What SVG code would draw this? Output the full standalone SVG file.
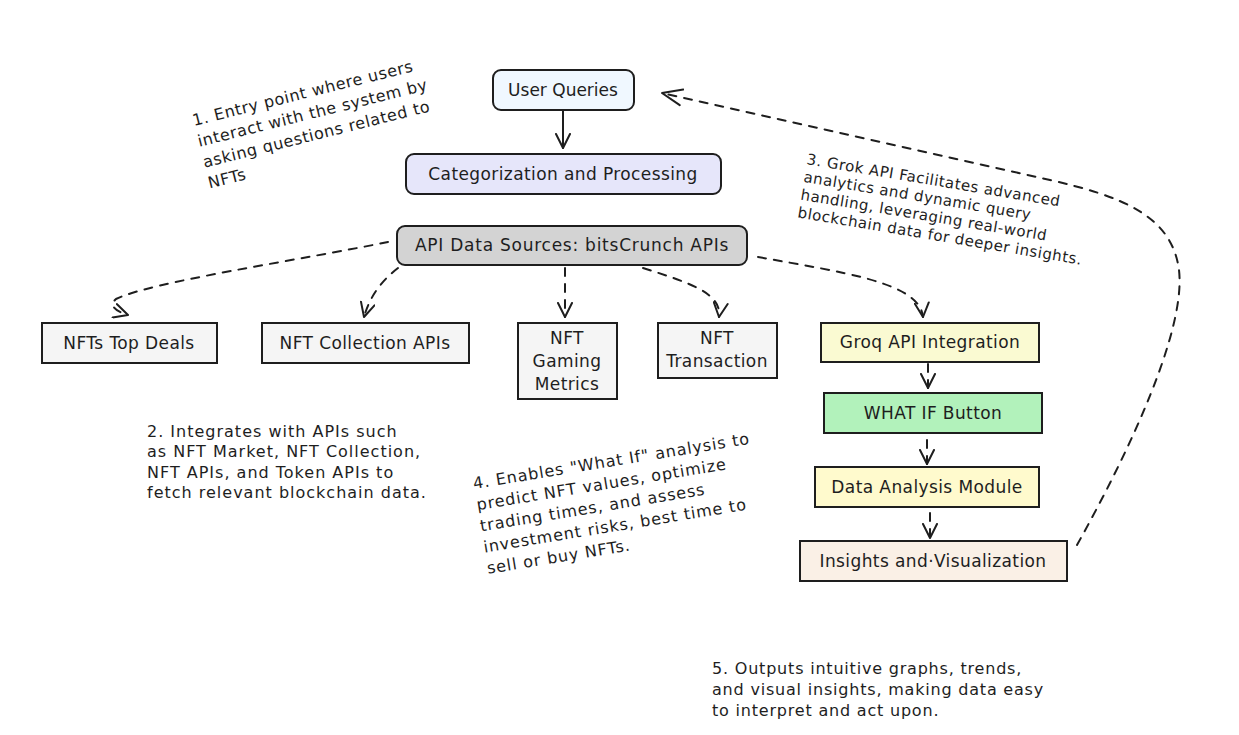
<svg xmlns="http://www.w3.org/2000/svg" width="1239" height="735" viewBox="0 0 1239 735">
<defs>
<marker id="ah" viewBox="0 0 16 16" refX="15" refY="8" markerWidth="16" markerHeight="16" markerUnits="userSpaceOnUse" orient="auto">
<path d="M1,1 L15,8 L1,15" fill="none" stroke="#1e1e1e" stroke-width="2" stroke-linecap="round" stroke-linejoin="round"/>
</marker>
<marker id="ahL" viewBox="0 0 22 22" refX="21" refY="11" markerWidth="22" markerHeight="22" markerUnits="userSpaceOnUse" orient="auto">
<path d="M1,3 L21,11 L1,19" fill="none" stroke="#1e1e1e" stroke-width="2" stroke-linecap="round" stroke-linejoin="round"/>
</marker>
</defs>
<style>
.n{stroke:#1e1e1e;stroke-width:2}
.t{font-family:"DejaVu Sans","Liberation Sans",sans-serif;font-size:17px;letter-spacing:0.4px;fill:#1e1e1e;text-anchor:middle;dominant-baseline:central}
.a{font-family:"DejaVu Sans","Liberation Sans",sans-serif;font-size:16px;fill:#1e1e1e}
.c{fill:none;stroke:#1e1e1e;stroke-width:2;stroke-linecap:round}
.d{stroke-dasharray:8 8}
</style>
<rect width="1239" height="735" fill="#ffffff"/>

<g id="connectors">
<path class="c" d="M563,110 L563,148" marker-end="url(#ah)"/>
<path class="c d" d="M388,242 C300,260 150,282 116,299 Q106,308 128,315" marker-end="url(#ah)"/>
<path class="c d" d="M398,268 Q372,288 364,317" marker-end="url(#ah)"/>
<path class="c d" d="M565,268 L565,317" marker-end="url(#ah)"/>
<path class="c d" d="M643,268 C690,283 722,293 719,317" marker-end="url(#ah)"/>
<path class="c d" d="M758,257 C840,272 920,282 923,317" marker-end="url(#ah)"/>
<path class="c d" d="M928,364 L928,388" marker-end="url(#ah)"/>
<path class="c d" d="M927,440 L927,464" marker-end="url(#ah)"/>
<path class="c d" d="M930,513 L930,538" marker-end="url(#ah)"/>
<path class="c d" d="M1077,545 C1130,450 1186,330 1179,270 C1172,215 1120,196 1050,180 L662,93" marker-end="url(#ahL)"/>
</g>

<g id="user-queries">
<rect class="n" x="493" y="70" width="141" height="40" rx="8" fill="#f0f8ff"/>
<text class="t" x="563" y="90" style="letter-spacing:0">User Queries</text>
</g>
<g id="categorization">
<rect class="n" x="406" y="154" width="315" height="40" rx="8" fill="#e6e6fa"/>
<text class="t" x="563" y="174">Categorization and Processing</text>
</g>
<g id="api-data-sources">
<rect class="n" x="397" y="226" width="350" height="39" rx="8" fill="#d3d3d3"/>
<text class="t" x="572" y="245" style="letter-spacing:0.75px">API Data Sources: bitsCrunch APIs</text>
</g>
<g id="nfts-top-deals">
<rect class="n" x="42" y="323" width="175" height="40" fill="#f5f5f5"/>
<text class="t" x="129" y="343">NFTs Top Deals</text>
</g>
<g id="nft-collection">
<rect class="n" x="262" y="323" width="207" height="40" fill="#f5f5f5"/>
<text class="t" x="365" y="343">NFT Collection APIs</text>
</g>
<g id="nft-gaming">
<rect class="n" x="518" y="323" width="99" height="76" fill="#f5f5f5"/>
<text class="t" x="567" y="338">NFT</text>
<text class="t" x="567" y="361">Gaming</text>
<text class="t" x="567" y="384">Metrics</text>
</g>
<g id="nft-transaction">
<rect class="n" x="658" y="323" width="119" height="55" fill="#f5f5f5"/>
<text class="t" x="717" y="338">NFT</text>
<text class="t" x="717" y="361">Transaction</text>
</g>
<g id="groq">
<rect class="n" x="821" y="323" width="218" height="39" fill="#fafad2"/>
<text class="t" x="930" y="342">Groq API Integration</text>
</g>
<g id="what-if">
<rect class="n" x="824" y="393" width="218" height="40" fill="#b2f2bb" stroke-width="3"/>
<text class="t" x="933" y="413">WHAT IF Button</text>
</g>
<g id="data-analysis">
<rect class="n" x="815" y="467" width="224" height="40" fill="#fffacd"/>
<text class="t" x="927" y="487">Data Analysis Module</text>
</g>
<g id="insights">
<rect class="n" x="800" y="541" width="267" height="40" fill="#faf0e6"/>
<text class="t" x="933" y="561">Insights and·Visualization</text>
</g>

<g id="note-1">
<text class="a" style="letter-spacing:0.6px" transform="translate(194,126) rotate(-14)"><tspan x="0" y="0">1. Entry point where users</tspan><tspan x="0" y="21.5">interact with the system by</tspan><tspan x="0" y="43">asking questions related to</tspan><tspan x="0" y="64.5">NFTs</tspan></text>
</g>
<g id="note-2">
<text class="a" style="letter-spacing:1px"><tspan x="147" y="437">2. Integrates with APIs such</tspan><tspan x="147" y="457">as NFT Market, NFT Collection,</tspan><tspan x="147" y="477.5">NFT APIs, and Token APIs to</tspan><tspan x="147" y="498">fetch relevant blockchain data.</tspan></text>
</g>
<g id="note-3">
<text class="a" style="font-size:15px;letter-spacing:0.5px" transform="translate(806,164) rotate(9.5)"><tspan x="0" y="0">3. Grok API Facilitates advanced</tspan><tspan x="0" y="18">analytics and dynamic query</tspan><tspan x="0" y="36">handling, leveraging real-world</tspan><tspan x="0" y="54">blockchain data for deeper insights.</tspan></text>
</g>
<g id="note-4">
<text class="a" style="letter-spacing:0.9px" transform="translate(474,489) rotate(-9.3)"><tspan x="0" y="0">4. Enables "What If" analysis to</tspan><tspan x="0" y="21.5">predict NFT values, optimize</tspan><tspan x="0" y="43">trading times, and assess</tspan><tspan x="0" y="64.5">investment risks, best time to</tspan><tspan x="0" y="86">sell or buy NFTs.</tspan></text>
</g>
<g id="note-5">
<text class="a" style="letter-spacing:0.8px"><tspan x="712" y="674">5. Outputs intuitive graphs, trends,</tspan><tspan x="712" y="695">and visual insights, making data easy</tspan><tspan x="712" y="716">to interpret and act upon.</tspan></text>
</g>
</svg>
